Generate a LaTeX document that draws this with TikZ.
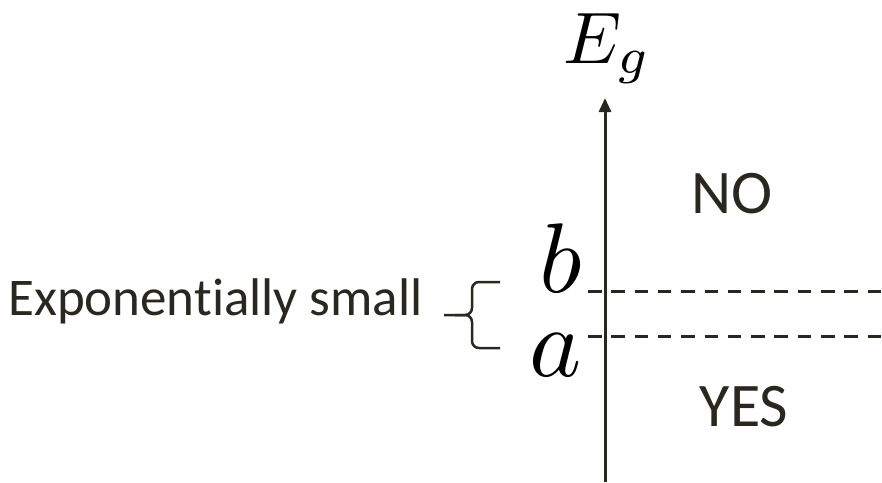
\documentclass[tikz,border=0pt]{standalone}
\usepackage{fontspec}
\setmainfont{Carlito}[Ligatures=NoCommon]
\usepackage{tikz}
\usetikzlibrary{arrows.meta,positioning}

\definecolor{ink}{RGB}{42,40,30}

% big math letters (math fonts stop at 25pt, so scale them)
\newcommand{\bigmath}[2]{\scalebox{#1}{$#2$}}

\tikzset{
    axisline/.style={line width=3pt, draw=ink, -{Triangle[width=12pt,length=14pt]}},
    levelline/.style={line width=3pt, draw=ink, dash pattern=on 13.5pt off 9.8pt},
    region/.style={font=\fontsize{62}{64}\selectfont, text=ink, inner sep=0pt},
    gaplabel/.style={font=\fontsize{53}{55}\selectfont, text=ink, inner sep=0pt},
    mathlabel/.style={text=black, inner sep=0pt}
}

\begin{document}
\begin{tikzpicture}[x=1pt, y=-1pt]

\useasboundingbox (0,0) rectangle (882,482);

% Energy axis
\coordinate (bot) at (605,482);
\coordinate (top) at (605,98);
\draw [axisline] (bot) -- (top);
\node (Eg) [mathlabel, anchor=base west] at (563,63) {\bigmath{7.3}{E_g}};

% Thresholds a and b
\node (b) [mathlabel, anchor=base west] at (539,292) {\bigmath{9.9}{b}};
\node (a) [mathlabel, anchor=base west] at (529,376) {\bigmath{9.9}{a}};
\coordinate (bL) at (588,291);
\coordinate (bR) at (882,291);
\coordinate (aL) at (588,336);
\coordinate (aR) at (882,336);
\draw [levelline] (bL) -- (bR);
\draw [levelline] (aL) -- (aR);

% Answer regions
\node (no) [region, anchor=base] at (732,213) {NO};
\node (yes) [region, anchor=base] at (744,426) {YES};

% Gap label with brace
\node (gap) [gaplabel, anchor=base west] at (8,315) {Exponentially small};
\draw [line width=2.5pt, draw=ink, rounded corners=7pt]
    (500,282) -- (472,282) -- (472,315) -- (444,315);
\draw [line width=2.5pt, draw=ink, rounded corners=7pt]
    (500,348) -- (472,348) -- (472,315) -- (455,315);

\end{tikzpicture}
\end{document}
